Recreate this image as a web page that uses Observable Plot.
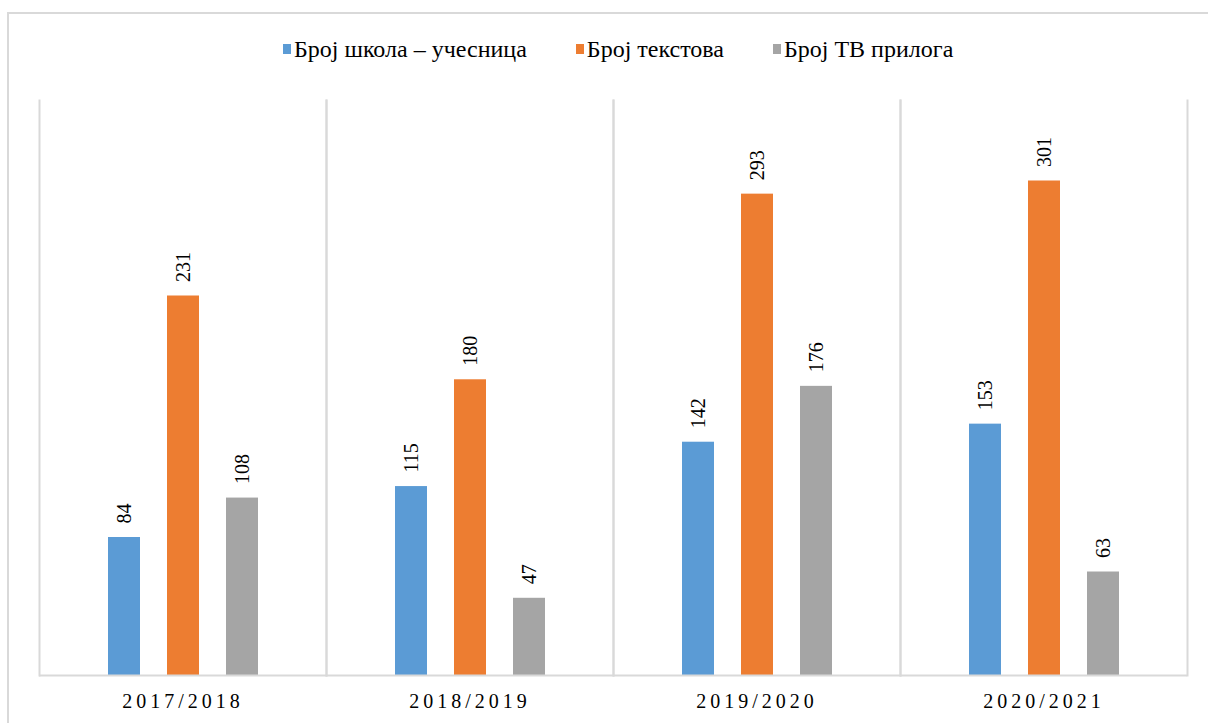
<!DOCTYPE html>
<html>
<head>
<meta charset="utf-8">
<script src="https://cdn.jsdelivr.net/npm/d3@7"></script>
<script src="https://cdn.jsdelivr.net/npm/@observablehq/plot@0.6"></script>
<style>
  body { margin: 0; background: #fff; width: 1208px; height: 723px; overflow: hidden; position: relative; }
  #border { position: absolute; left: 7px; top: 12px; width: 1400px; height: 900px; border-left: 2px solid #d9d9d9; border-top: 2px solid #d9d9d9; }
  #legend { position: relative; height: 95px; box-sizing: border-box; padding-top: 35px; padding-left: 283px; display: flex; font-family: 'Liberation Serif', 'Times New Roman', serif; font-size: 24px; line-height: 28px; color: #000; align-items: flex-start; }
  #legend .item { display: flex; align-items: center; margin-right: 49px; }
  #legend .sw { width: 8px; height: 10px; margin-right: 3px; }
  #chart { position: relative; }
</style>
</head>
<body>
<div id="border"></div>
<div id="legend"></div>
<div id="chart"></div>
<script>
const years = ["2017/2018", "2018/2019", "2019/2020", "2020/2021"];
const seriesNames = ["Број школа – учесница", "Број текстова", "Број ТВ прилога"];
const schools = [84, 115, 142, 153];
const texts = [231, 180, 293, 301];
const tvItems = [108, 47, 176, 63];
const colors = ["#5B9BD5", "#ED7D31", "#A5A5A5"];

const seriesValues = [schools, texts, tvItems];
const data = [];
years.forEach((yr, i) => {
  seriesNames.forEach((s, j) => {
    data.push({year: yr, series: s, value: seriesValues[j][i]});
  });
});

// legend
const legend = document.getElementById("legend");
seriesNames.forEach((s, j) => {
  const item = document.createElement("div");
  item.className = "item";
  const sw = document.createElement("div");
  sw.className = "sw";
  sw.style.background = colors[j];
  const lab = document.createElement("span");
  lab.textContent = s;
  item.appendChild(sw);
  item.appendChild(lab);
  legend.appendChild(item);
});

const chart = Plot.plot({
  width: 1208,
  height: 628,
  marginLeft: 38,
  marginRight: 20,
  marginTop: 5,
  marginBottom: 48,
  style: {fontFamily: "'Liberation Serif', 'Times New Roman', serif", background: "transparent", color: "#000"},
  fx: {domain: years, padding: 0, label: null},
  x: {domain: seriesNames, paddingInner: 0.46, paddingOuter: 1.15, axis: null},
  y: {domain: [0, 350], axis: null},
  color: {domain: seriesNames, range: colors},
  marks: [
    Plot.frame({anchor: "left", stroke: "#d9d9d9", strokeWidth: 2}),
    Plot.frame({anchor: "right", stroke: "#d9d9d9", strokeWidth: 2}),
    Plot.barY(data, {fx: "year", x: "series", y: "value", fill: "series"}),
    Plot.ruleY([0], {stroke: "#d9d9d9", strokeWidth: 2}),
    Plot.text(data, {fx: "year", x: "series", y: "value", text: d => String(d.value), rotate: -90, textAnchor: "start", lineAnchor: "middle", dy: -14, fontSize: 20, fill: "#000", letterSpacing: 1.5}),
    Plot.axisFx({anchor: "bottom", tickSize: 0, tickPadding: 18, fontSize: 20, label: null})
  ]
});
chart.querySelectorAll("[aria-label='fx-axis tick label'] text").forEach(t => t.setAttribute("letter-spacing", "4"));
document.getElementById("chart").appendChild(chart);
</script>
</body>
</html>
